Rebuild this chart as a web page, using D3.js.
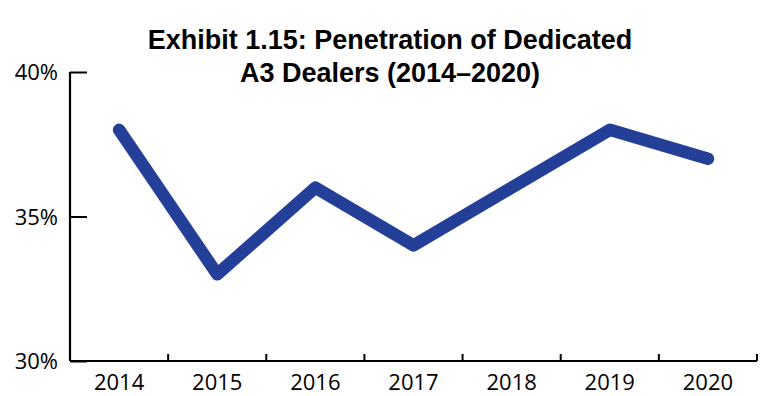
<!DOCTYPE html>
<html><head><meta charset="utf-8">
<script src="https://cdn.jsdelivr.net/npm/d3@7"></script>
<style>body{margin:0;background:#fff}</style>
</head><body>
<svg id="c" width="780" height="396"></svg>
<script>
const years = ["2014","2015","2016","2017","2018","2019","2020"];
const penetration = [38, 33, 36, 34, 36, 38, 37];
const yTicks = [30, 35, 40];
const titleLines = ["Exhibit 1.15: Penetration of Dedicated", "A3 Dealers (2014\u20132020)"];

const svg = d3.select("#c");
const x = d3.scaleBand().domain(years).range([70, 757]);
const y = d3.scaleLinear().domain([30, 40]).range([361, 72]);

// title
svg.append("text").attr("x", 390).attr("text-anchor", "middle")
  .attr("font-family", "Liberation Sans, Arial, sans-serif").attr("font-weight", "bold")
  .attr("font-size", 27).attr("fill", "#000")
  .selectAll("tspan").data(titleLines).join("tspan")
  .attr("x", 390).attr("y", (d, i) => 49 + i * 33).text(d => d);

// y axis
const yAxis = svg.append("g").attr("transform", "translate(70,0)")
  .call(d3.axisRight(y).tickValues(yTicks).tickSize(17).tickFormat(() => ""));
yAxis.select(".domain").remove();
yAxis.selectAll("line").attr("stroke", "#000").attr("stroke-width", 2);
svg.append("line").attr("x1", 70).attr("x2", 70).attr("y1", y(40)).attr("y2", y(30))
  .attr("stroke", "#000").attr("stroke-width", 2.2);
svg.append("g").selectAll("text").data(yTicks).join("text")
  .attr("x", 58).attr("y", d => y(d) + 8).attr("text-anchor", "end")
  .attr("font-family", "Open Sans, sans-serif").attr("font-size", 22).attr("fill", "#000")
  .text(d => d + "%");

// x axis
const bounds = years.map(d => x(d) + x.bandwidth());
svg.append("line").attr("x1", 70).attr("x2", 757).attr("y1", 361).attr("y2", 361)
  .attr("stroke", "#000").attr("stroke-width", 2.2);
svg.append("g").selectAll("line").data(bounds).join("line")
  .attr("x1", d => d).attr("x2", d => d).attr("y1", 361).attr("y2", 354)
  .attr("stroke", "#000").attr("stroke-width", 2);
svg.append("g").selectAll("text").data(years).join("text")
  .attr("x", d => x(d) + x.bandwidth() / 2).attr("y", 390).attr("text-anchor", "middle")
  .attr("font-family", "Open Sans, sans-serif").attr("font-size", 22).attr("fill", "#000")
  .text(d => d);

// line
const line = d3.line().x((d, i) => x(years[i]) + x.bandwidth() / 2).y(d => y(d));
svg.append("path").datum(penetration).attr("d", line)
  .attr("fill", "none").attr("stroke", "#243f97").attr("stroke-width", 12.5)
  .attr("stroke-linejoin", "round").attr("stroke-linecap", "round");
</script>
</body></html>
